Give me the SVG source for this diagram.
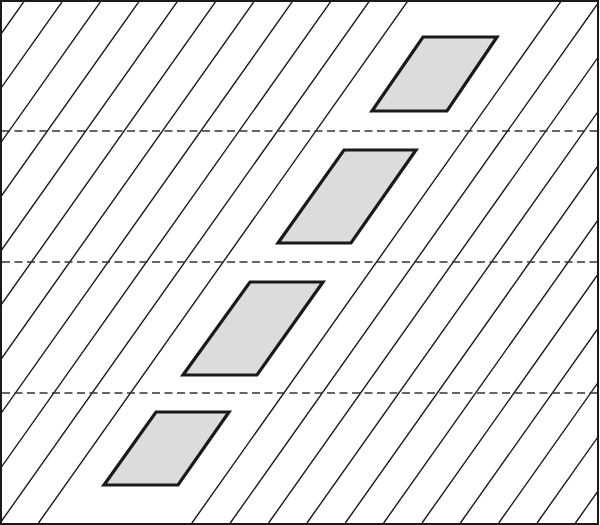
<svg xmlns="http://www.w3.org/2000/svg" width="600" height="525" viewBox="0 0 600 525">
  <style>
    .hatch { fill: none; stroke: #1a1a1a; stroke-width: 1.4; }
    .dash { fill: none; stroke: #333; stroke-width: 1.4; stroke-dasharray: 8 4.5; }
    .para { fill: #dcdcde; stroke: #1a1a1a; stroke-width: 3.2; stroke-linejoin: miter; }
    .frame { fill: none; stroke: #1a1a1a; stroke-width: 2; }
  </style>
  <defs>
    <clipPath id="box">
      <rect x="1" y="1" width="597" height="523"/>
    </clipPath>
  </defs>
  <rect x="0" y="0" width="600" height="525" fill="#fff"/>
  <g id="hatching" clip-path="url(#box)">
    <path class="hatch" d="M25,0 l-370,523 M63.35,0 l-370,523 M101.7,0 l-370,523 M140.05,0 l-370,523 M178.4,0 l-370,523 M216.75,0 l-370,523 M255.1,0 l-370,523 M293.45,0 l-370,523 M331.8,0 l-370,523 M370.15,0 l-370,523 M408.5,0 l-370,523 M561.9,0 l-370,523 M600.25,0 l-370,523 M638.6,0 l-370,523 M676.95,0 l-370,523 M715.3,0 l-370,523 M753.65,0 l-370,523 M792,0 l-370,523 M830.35,0 l-370,523 M868.7,0 l-370,523 M907.05,0 l-370,523 M945.4,0 l-370,523"/>
  </g>
  <g id="dividers">
    <line class="dash" x1="2" y1="131" x2="598" y2="131"/>
    <line class="dash" x1="2" y1="262" x2="598" y2="262"/>
    <line class="dash" x1="2" y1="393" x2="598" y2="393"/>
  </g>
  <g id="p1"><polygon class="para" points="423,37 497,37 447,111 372,111"/></g>
  <g id="p2"><polygon class="para" points="344,150 416,150 351,243 278,243"/></g>
  <g id="p3"><polygon class="para" points="250,282 323,282 257,375 183,375"/></g>
  <g id="p4"><polygon class="para" points="156,412 229,412 178,485 104,485"/></g>
  <rect class="frame" x="1" y="1" width="597" height="523"/>
</svg>
